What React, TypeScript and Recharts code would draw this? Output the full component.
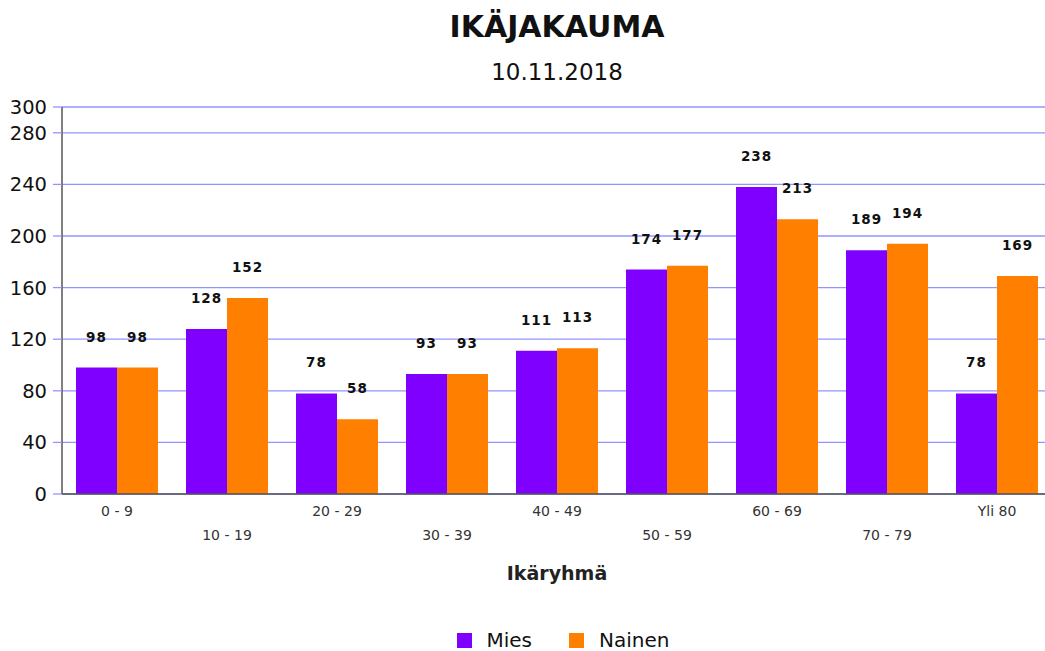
import { Bar, BarChart, CartesianGrid, LabelList, Legend, XAxis, YAxis } from 'recharts';

const ageGroups = ['0 - 9', '10 - 19', '20 - 29', '30 - 39', '40 - 49', '50 - 59', '60 - 69', '70 - 79', 'Yli 80'];
const mies = [98, 128, 78, 93, 111, 174, 238, 189, 78];
const nainen = [98, 152, 58, 93, 113, 177, 213, 194, 169];
const yTicks = [0, 40, 80, 120, 160, 200, 240, 280, 300];

const data = ageGroups.map((group, i) => ({ group, Mies: mies[i], Nainen: nainen[i] }));

const FONT = '"DejaVu Sans", sans-serif';
const PURPLE = '#8000ff';
const ORANGE = '#ff8000';
const GRID = '#9494ff';

function StaggerTick({ x, y, payload, index }: any) {
  return (
    <text x={x} y={y + (index % 2 ? 46 : 22)} textAnchor="middle" fontSize={14} fill="#333" fontFamily={FONT}>
      {payload.value}
    </text>
  );
}

function LegendBox() {
  const items = [
    { name: 'Mies', color: PURPLE },
    { name: 'Nainen', color: ORANGE },
  ];
  return (
    <div style={{ display: 'flex', justifyContent: 'center', alignItems: 'center', height: 22, fontFamily: FONT }}>
      {items.map((it, i) => (
        <div key={it.name} style={{ display: 'flex', alignItems: 'center', marginLeft: i ? 37 : 0 }}>
          <span style={{ width: 15, height: 15, background: it.color, display: 'inline-block' }} />
          <span style={{ fontSize: 20, marginLeft: 15, color: '#111' }}>{it.name}</span>
        </div>
      ))}
    </div>
  );
}

export default function App() {
  return (
    <div style={{ position: 'fixed', left: 0, top: 0, width: 1045, height: 651, overflow: 'hidden', background: '#fff' }}>
      <BarChart
        width={1060}
        height={651}
        data={data}
        margin={{ top: 107, right: 8, left: 0, bottom: 0 }}
        barCategoryGap={14}
        barGap={0}
      >
        <CartesianGrid vertical={false} stroke={GRID} strokeWidth={1.3} />
        <XAxis
          dataKey="group"
          interval={0}
          tickSize={0}
          tickMargin={0}
          tick={<StaggerTick />}
          axisLine={{ stroke: '#555', strokeWidth: 1.5 }}
          height={135}
        />
        <YAxis
          type="number"
          domain={[0, 300]}
          ticks={yTicks}
          interval={0}
          width={62}
          tickSize={9}
          tickMargin={6}
          tickLine={{ stroke: GRID, strokeWidth: 1.3 }}
          axisLine={{ stroke: '#555', strokeWidth: 1.5 }}
          tick={{ fontSize: 19.5, fill: '#111', fontFamily: FONT }}
        />
        <Legend
          verticalAlign="bottom"
          content={<LegendBox />}
          wrapperStyle={{ left: 0, width: 1126, height: 22 }}
        />
        <Bar dataKey="Mies" fill={PURPLE} isAnimationActive={false}>
          <LabelList dataKey="Mies" position="top" offset={26} fill="#111" fontSize={13.5} fontWeight={600} fontFamily={FONT} letterSpacing={1} />
        </Bar>
        <Bar dataKey="Nainen" fill={ORANGE} isAnimationActive={false}>
          <LabelList dataKey="Nainen" position="top" offset={26} fill="#111" fontSize={13.5} fontWeight={600} fontFamily={FONT} letterSpacing={1} />
        </Bar>
      </BarChart>
      <svg width={1045} height={651} style={{ position: 'absolute', left: 0, top: 0, pointerEvents: 'none' }}>
        <text x={557} y={37} textAnchor="middle" fontFamily={FONT} fontSize={30} fontWeight="bold" fill="#111">
          IKÄJAKAUMA
        </text>
        <text x={557} y={80} textAnchor="middle" fontFamily={FONT} fontSize={23} fill="#111">
          10.11.2018
        </text>
        <text x={557} y={580} textAnchor="middle" fontFamily={FONT} fontSize={19} fontWeight="bold" fill="#222">
          Ikäryhmä
        </text>
      </svg>
    </div>
  );
}
